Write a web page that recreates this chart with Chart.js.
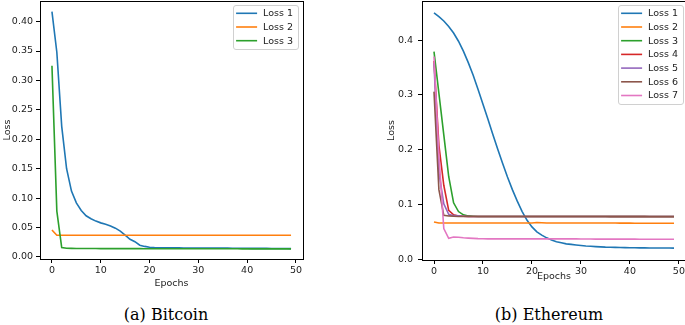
<!DOCTYPE html>
<html>
<head>
<meta charset="utf-8">
<script src="https://cdn.jsdelivr.net/npm/chart.js@4.4.1/dist/chart.umd.min.js"></script>
<style>
  body { margin: 0; background: #fff; width: 685px; height: 325px; position: relative; overflow: hidden; }
  canvas { position: absolute; top: 0; }
  #btc { left: 0; }
  #eth { left: 340px; }
  .cap { position: absolute; top: 305px; width: 200px; text-align: center;
         font-family: "DejaVu Serif", serif; font-size: 16px; color: #000; white-space: nowrap; }
</style>
</head>
<body>
<canvas id="btc" width="330" height="300"></canvas>
<canvas id="eth" width="350" height="300"></canvas>
<div class="cap" style="left:66px">(a) Bitcoin</div>
<div class="cap" style="left:449px">(b) Ethereum</div>
<script>
// ---------------------------------------------------------- DATA

var epochs = [0,1,2,3,4,5,6,7,8,9,10,11,12,13,14,15,16,17,18,19,20,21,22,23,24,
              25,26,27,28,29,30,31,32,33,34,35,36,37,38,39,40,41,42,43,44,45,46,47,48,49];
var xTicks = [0, 10, 20, 30, 40, 50];
var btcTicks = [0, 0.05, 0.10, 0.15, 0.20, 0.25, 0.30, 0.35, 0.40];
var ethTicks = [0, 0.1, 0.2, 0.3, 0.4];

var btcLabels = ["Loss 1", "Loss 2", "Loss 3"];
var btcLoss1 = [0.417,0.348,0.222,0.150,0.112,0.092,0.079,0.070,0.065,0.061,
                0.058,0.0555,0.0527,0.049,0.044,0.037,0.030,0.026,0.020,0.018,
                0.0165,0.016,0.0158,0.0157,0.0156,0.0155,0.0155,0.0154,0.0154,0.0153,
                0.0153,0.0152,0.0152,0.0151,0.0151,0.0150,0.0150,0.0149,0.0149,0.0148,
                0.0148,0.0147,0.0147,0.0146,0.0146,0.0145,0.0145,0.0144,0.0144,0.0143];
var btcLoss2 = [0.046,0.037,0.037,0.037,0.037,0.037,0.037,0.037,0.037,0.037,
                0.037,0.037,0.037,0.037,0.037,0.037,0.037,0.037,0.037,0.037,
                0.037,0.037,0.037,0.037,0.037,0.037,0.037,0.037,0.037,0.037,
                0.037,0.037,0.037,0.037,0.037,0.037,0.037,0.037,0.037,0.037,
                0.037,0.037,0.037,0.037,0.037,0.037,0.037,0.037,0.037,0.037];
var btcLoss3 = [0.325,0.078,0.016,0.0148,0.0146,0.0145,0.0145,0.0144,0.0144,0.0144,
                0.0143,0.0143,0.0143,0.0143,0.0142,0.0142,0.0142,0.0142,0.0142,0.0141,
                0.0141,0.0141,0.0141,0.0141,0.0140,0.0140,0.0140,0.0140,0.0140,0.0140,
                0.0140,0.0139,0.0139,0.0139,0.0139,0.0139,0.0139,0.0139,0.0139,0.0138,
                0.0138,0.0138,0.0138,0.0138,0.0138,0.0138,0.0138,0.0138,0.0138,0.0138];

var ethLabels = ["Loss 1", "Loss 2", "Loss 3", "Loss 4", "Loss 5", "Loss 6", "Loss 7"];
var ethLoss1 = [0.450,0.443,0.435,0.425,0.413,0.398,0.380,0.359,0.336,0.310,
                0.283,0.256,0.228,0.201,0.175,0.150,0.127,0.106,0.087,0.071,
                0.059,0.050,0.044,0.039,0.035,0.032,0.030,0.028,0.027,0.026,
                0.025,0.024,0.0235,0.023,0.0225,0.022,0.0218,0.0215,0.0213,0.0211,
                0.021,0.0208,0.0207,0.0206,0.0205,0.0204,0.0204,0.0203,0.0203,0.0202];
var ethLoss2 = [0.068,0.066,0.066,0.066,0.066,0.066,0.066,0.066,0.066,0.066,
                0.066,0.066,0.066,0.066,0.066,0.066,0.066,0.066,0.066,0.066,
                0.066,0.067,0.0665,0.066,0.066,0.066,0.066,0.066,0.066,0.066,
                0.066,0.066,0.066,0.066,0.066,0.066,0.066,0.066,0.0658,0.0658,
                0.0658,0.0657,0.0657,0.0657,0.0656,0.0656,0.0656,0.0655,0.0655,0.0655];
var ethLoss3 = [0.379,0.303,0.227,0.151,0.103,0.087,0.081,0.079,0.0785,0.078,
                0.078,0.078,0.078,0.078,0.078,0.078,0.078,0.078,0.078,0.078,
                0.078,0.078,0.078,0.078,0.078,0.078,0.078,0.078,0.078,0.078,
                0.078,0.078,0.078,0.078,0.078,0.078,0.078,0.078,0.078,0.078,
                0.078,0.078,0.078,0.078,0.078,0.078,0.078,0.078,0.078,0.078];
var ethLoss4 = [0.362,0.208,0.135,0.089,0.081,0.079,0.0785,0.078,0.078,0.078,
                0.078,0.078,0.078,0.078,0.078,0.078,0.078,0.078,0.078,0.078,
                0.078,0.078,0.078,0.078,0.078,0.078,0.078,0.078,0.078,0.078,
                0.078,0.078,0.078,0.078,0.078,0.078,0.078,0.078,0.078,0.078,
                0.078,0.078,0.078,0.078,0.078,0.078,0.078,0.078,0.078,0.078];
var ethLoss5 = [0.358,0.158,0.101,0.082,0.0795,0.079,0.0785,0.078,0.078,0.078,
                0.078,0.078,0.078,0.078,0.078,0.078,0.078,0.078,0.078,0.078,
                0.078,0.078,0.078,0.078,0.078,0.078,0.078,0.078,0.078,0.078,
                0.078,0.078,0.078,0.078,0.078,0.078,0.078,0.078,0.078,0.078,
                0.078,0.078,0.078,0.078,0.078,0.078,0.078,0.078,0.078,0.078];
var ethLoss6 = [0.306,0.127,0.080,0.079,0.0785,0.078,0.078,0.078,0.078,0.078,
                0.078,0.078,0.078,0.078,0.078,0.078,0.078,0.078,0.078,0.078,
                0.078,0.078,0.078,0.078,0.078,0.078,0.078,0.078,0.078,0.078,
                0.078,0.078,0.078,0.0779,0.0779,0.0779,0.0778,0.0778,0.0778,0.0778,
                0.0777,0.0777,0.0777,0.0777,0.0776,0.0776,0.0776,0.0776,0.0775,0.0775];
var ethLoss7 = [0.370,0.190,0.056,0.038,0.0405,0.040,0.039,0.0385,0.038,0.0375,
                0.0372,0.037,0.037,0.037,0.037,0.037,0.037,0.037,0.037,0.037,
                0.037,0.037,0.037,0.037,0.037,0.037,0.037,0.037,0.037,0.037,
                0.0368,0.0368,0.0368,0.0367,0.0367,0.0367,0.0367,0.0366,0.0366,0.0366,
                0.0366,0.0366,0.0365,0.0365,0.0365,0.0365,0.0365,0.0365,0.0365,0.0365];

// ---------------------------------------------------------- STYLE

var colors = ['#1f77b4', '#ff7f0e', '#2ca02c', '#d62728', '#9467bd', '#8c564b', '#e377c2'];
var FONT = 'DejaVu Sans';
var FS = 9.5;

// box around the plot, like matplotlib spines
var spinesPlugin = {
	id: 'spines',
	afterDatasetsDraw: function (chart) {
		var a = chart.chartArea, c = chart.ctx;
		var L = Math.round(a.left), R = Math.round(a.right), T = Math.round(a.top), B = Math.round(a.bottom);
		c.save();
		c.strokeStyle = '#000';
		c.lineWidth = 1;
		c.strokeRect(L + 0.5, T + 0.5, R - L, B - T);
		c.restore();
	}
};

// legend box in the upper right corner of the plot
var boxLegend = {
	id: 'boxLegend',
	afterDraw: function (chart, args, opts) {
		var c = chart.ctx, a = chart.chartArea;
		var ds = chart.data.datasets;
		c.save();
		c.font = FS + 'px "' + FONT + '"';
		var tw = 0;
		ds.forEach(function (d) { tw = Math.max(tw, c.measureText(d.label).width); });
		var rowH = 13.7;
		var w = 30 + tw + 5;
		var h = 16.6 + rowH * (ds.length - 1);
		var x = a.right - opts.inset - w;
		var y = a.top + 4;
		c.beginPath();
		c.roundRect(Math.round(x) + 0.5, Math.round(y) + 0.5, Math.round(w), Math.round(h), 2.5);
		c.fillStyle = 'rgba(255,255,255,0.85)';
		c.fill();
		c.strokeStyle = '#d0d0d0';
		c.lineWidth = 1;
		c.stroke();
		c.textBaseline = 'middle';
		c.textAlign = 'left';
		ds.forEach(function (d, i) {
			var yy = y + 8.3 + i * rowH;
			c.beginPath();
			c.moveTo(x + 3, yy);
			c.lineTo(x + 24, yy);
			c.strokeStyle = d.borderColor;
			c.lineWidth = 1.6;
			c.stroke();
			c.fillStyle = '#222';
			c.fillText(d.label, x + 30, yy + 0.5);
		});
		c.restore();
	}
};

function noPad(s) {
	s.paddingTop = 0; s.paddingBottom = 0; s.paddingLeft = 0; s.paddingRight = 0;
}

function makeChart(id, labels, series, yTicks, yMin, yMax, decimals, lay) {
	var datasets = series.map(function (s, i) {
		return {
			label: labels[i],
			data: s.map(function (v, k) { return { x: epochs[k], y: v }; }),
			borderColor: colors[i],
			backgroundColor: colors[i],
			borderWidth: 1.6,
			pointRadius: 0,
			tension: 0,
			fill: false,
			order: -i
		};
	});
	var tickFont = { family: FONT, size: FS };
	return new Chart(document.getElementById(id), {
		type: 'line',
		data: { datasets: datasets },
		plugins: [spinesPlugin, boxLegend],
		options: {
			responsive: false,
			animation: false,
			layout: { padding: lay.padding },
			plugins: {
				legend: { display: false },
				tooltip: { enabled: false },
				boxLegend: { inset: lay.inset }
			},
			scales: {
				x: {
					type: 'linear',
					min: -2.45, max: 51.45,
					border: { display: false },
					grid: { drawOnChartArea: false, drawTicks: true, tickLength: 4, color: '#000' },
					afterBuildTicks: function (s) { s.ticks = xTicks.map(function (v) { return { value: v }; }); },
					afterFit: function (s) { s.height = lay.xh; noPad(s); },
					ticks: { font: tickFont, color: '#222', padding: 2, maxRotation: 0, autoSkip: false,
					         callback: function (v) { return String(v); } },
					title: { display: true, text: 'Epochs', font: tickFont, color: '#222',
					         padding: { top: 0, bottom: lay.xtb } }
				},
				y: {
					min: yMin, max: yMax,
					border: { display: false },
					grid: { drawOnChartArea: false, drawTicks: true, tickLength: 4, color: '#000' },
					afterBuildTicks: function (s) { s.ticks = yTicks.map(function (v) { return { value: v }; }); },
					afterFit: function (s) { s.width = lay.yw; noPad(s); },
					ticks: { font: tickFont, color: '#222', padding: lay.ypad, autoSkip: false,
					         callback: function (v) { return Number(v).toFixed(decimals); } },
					title: { display: true, text: 'Loss', font: tickFont, color: '#222',
					         padding: { top: 2, bottom: 0 } }
				}
			}
		}
	});
}

// ---------------------------------------------------------- CHARTS

makeChart('btc', btcLabels, [btcLoss1, btcLoss2, btcLoss3], btcTicks, -0.0034, 0.435, 2,
	{ padding: { top: 1, right: 27, left: 0, bottom: 0 }, yw: 40, xh: 41, xtb: 10.4, ypad: 3, inset: 5 });

makeChart('eth', ethLabels, [ethLoss1, ethLoss2, ethLoss3, ethLoss4, ethLoss5, ethLoss6, ethLoss7],
	ethTicks, -0.0015, 0.4715, 1,
	{ padding: { top: 1, right: 4, left: 44, bottom: 0 }, yw: 38, xh: 40, xtb: 17.4, ypad: 5, inset: 3 });
</script>
</body>
</html>
